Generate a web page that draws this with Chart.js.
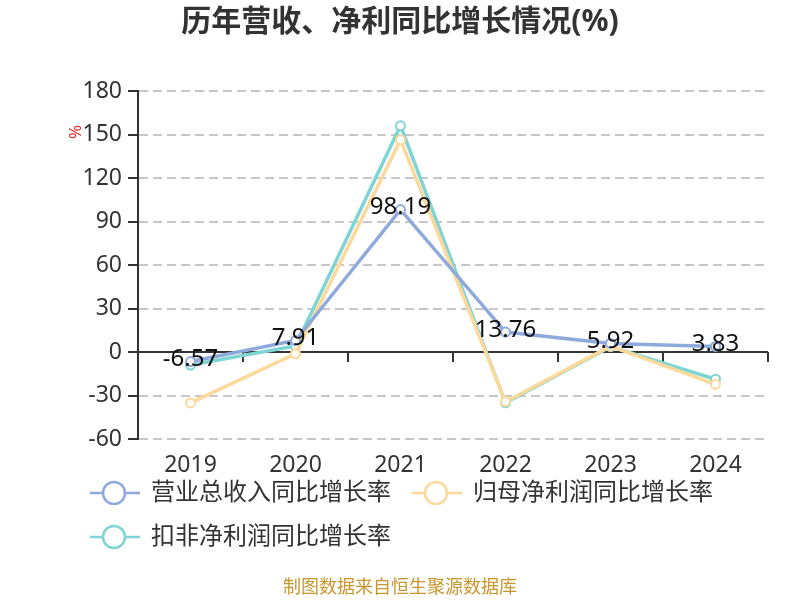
<!DOCTYPE html>
<html>
<head>
<meta charset="utf-8">
<script src="https://cdn.jsdelivr.net/npm/chart.js@4/dist/chart.umd.min.js"></script>
<style>
html,body{margin:0;padding:0;background:#fff;}
#wrap{width:800px;height:600px;position:relative;}
</style>
</head>
<body>
<div id="wrap"><canvas id="c" width="800" height="600"></canvas></div>
<script>
const years = ['2019','2020','2021','2022','2023','2024'];
const revenueGrowth = [-6.57, 7.91, 98.19, 13.76, 5.92, 3.83];
const netProfitGrowth = [-35.1, -1.2, 146.3, -34.3, 4.0, -22.3];
const deductedProfitGrowth = [-9.0, 4.1, 156.0, -35.0, 3.7, -18.8];
const seriesNames = ['营业总收入同比增长率', '归母净利润同比增长率', '扣非净利润同比增长率'];
const seriesColors = ['#8eaadc', '#fdd89b', '#7fd4d4'];
const yTicks = [-60, -30, 0, 30, 60, 90, 120, 150, 180];

const FONT = '"Noto Sans", "Noto Sans CJK SC", sans-serif';

const decorPlugin = {
  id: 'decor',
  beforeDatasetsDraw(chart) {
    const {ctx, chartArea, scales} = chart;
    const y = scales.y;
    const y0 = y.getPixelForValue(0);
    ctx.save();
    ctx.strokeStyle = '#333';
    ctx.lineWidth = 2;
    ctx.beginPath();
    ctx.moveTo(chartArea.left, y0);
    ctx.lineTo(chartArea.right, y0);
    ctx.stroke();
    const n = years.length;
    const step = (chartArea.right - chartArea.left) / n;
    ctx.beginPath();
    for (let i = 1; i <= n; i++) {
      const px = Math.round(chartArea.left + step * i);
      ctx.moveTo(px, y0);
      ctx.lineTo(px, y0 + 10);
    }
    ctx.stroke();
    ctx.restore();
  },
  afterDraw(chart) {
    const {ctx} = chart;
    ctx.save();
    // title
    ctx.fillStyle = '#333';
    ctx.font = 'bold 30px ' + FONT;
    ctx.textAlign = 'center';
    ctx.textBaseline = 'middle';
    ctx.fillText('历年营收、净利同比增长情况(%)', 400, 22);
    // y axis unit
    ctx.save();
    ctx.translate(76, 132);
    ctx.rotate(-Math.PI / 2);
    ctx.fillStyle = '#e8262a';
    ctx.font = '17px ' + FONT;
    ctx.fillText('%', 0, 0);
    ctx.restore();
    // data labels for revenue
    const meta = chart.getDatasetMeta(0);
    ctx.fillStyle = '#111';
    ctx.font = '24px ' + FONT;
    ctx.textAlign = 'center';
    ctx.textBaseline = 'middle';
    meta.data.forEach((pt, i) => {
      ctx.fillText(revenueGrowth[i].toFixed(2), pt.x, pt.y - 2);
    });
    // legend
    const pos = [[90, 493], [412, 493], [90, 537]];
    chart.data.datasets.forEach((ds, i) => {
      const [lx, ly] = pos[i];
      ctx.strokeStyle = ds.borderColor;
      ctx.lineWidth = 2.5;
      ctx.beginPath();
      ctx.moveTo(lx, ly);
      ctx.lineTo(lx + 50, ly);
      ctx.stroke();
      ctx.beginPath();
      ctx.arc(lx + 24, ly, 11, 0, Math.PI * 2);
      ctx.fillStyle = '#fff';
      ctx.fill();
      ctx.stroke();
      ctx.fillStyle = '#333';
      ctx.font = '24px ' + FONT;
      ctx.textAlign = 'left';
      ctx.textBaseline = 'middle';
      ctx.fillText(ds.label, lx + 61, ly);
    });
    // footer
    ctx.fillStyle = '#c8962e';
    ctx.font = '18px ' + FONT;
    ctx.textAlign = 'center';
    ctx.textBaseline = 'middle';
    ctx.fillText('制图数据来自恒生聚源数据库', 400, 588);
    ctx.restore();
  }
};

function mkDataset(label, data, color) {
  return {
    label, data,
    borderColor: color,
    backgroundColor: '#fff',
    borderWidth: 3.5,
    pointRadius: 4.5,
    pointBorderWidth: 2,
    pointBackgroundColor: '#fff',
    pointBorderColor: color,
    tension: 0
  };
}

new Chart(document.getElementById('c'), {
  type: 'line',
  data: {
    labels: years,
    datasets: [
      mkDataset(seriesNames[0], revenueGrowth, seriesColors[0]),
      mkDataset(seriesNames[1], netProfitGrowth, seriesColors[1]),
      mkDataset(seriesNames[2], deductedProfitGrowth, seriesColors[2])
    ]
  },
  options: {
    responsive: false,
    animation: false,
    devicePixelRatio: 1,
    layout: { padding: { left: 0, right: 32, top: 91, bottom: 0 } },
    plugins: { legend: { display: false }, title: { display: false }, tooltip: { enabled: false } },
    scales: {
      x: {
        offset: true,
        grid: { display: false, drawTicks: false },
        border: { display: false },
        ticks: { color: '#333', font: { size: 23, family: FONT }, padding: 13 },
        afterFit(s) { s.height = 161; }
      },
      y: {
        min: -60, max: 180,
        afterBuildTicks(s) { s.ticks = yTicks.map(v => ({ value: v })); },
        grid: {
          color: ctx => (ctx.tick && ctx.tick.value === 0) ? 'rgba(0,0,0,0)' : '#c8c8c8',
          lineWidth: 2,
          tickLength: 10,
          tickColor: '#333',
          tickWidth: 2
        },
        border: { display: true, color: '#333', width: 2, dash: [9, 5] },
        ticks: { color: '#333', font: { size: 23, family: FONT }, padding: 6 },
        afterFit(s) { s.width = 138; }
      }
    }
  },
  plugins: [decorPlugin]
});
</script>
</body>
</html>
